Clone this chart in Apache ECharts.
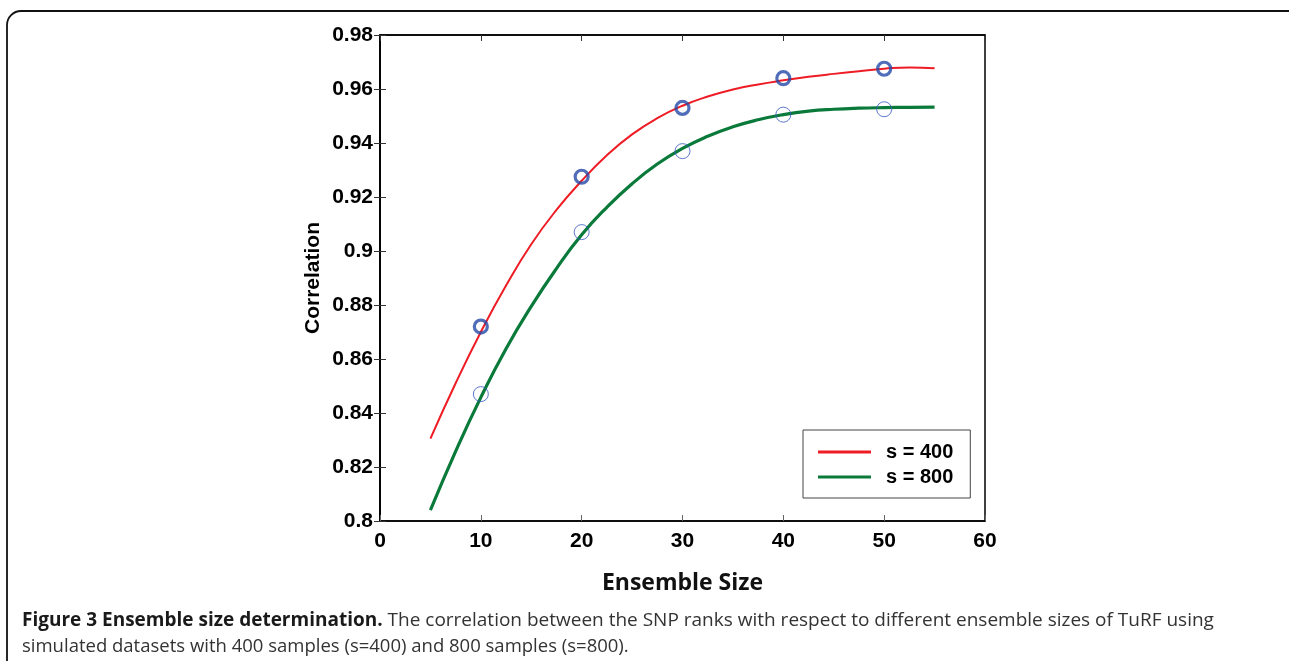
<!DOCTYPE html>
<html>
<head>
<meta charset="utf-8">
<title>Ensemble size determination</title>
<script src="https://cdn.jsdelivr.net/npm/echarts@6/dist/echarts.min.js"></script>
<style>
    html, body { margin: 0; padding: 0; background: #fff; }
    #chart { width: 1289px; height: 661px; }
</style>
</head>
<body>
<div id="chart"></div>
<script>
// fitted curves (ensemble size -> correlation)
const fitX = [5, 7.5, 10, 12.5, 15, 17.5, 20, 22.5, 25, 27.5, 30, 32.5, 35, 37.5, 40, 42.5, 45, 47.5, 50, 52.5, 55];
const fit400 = [0.8305, 0.851, 0.870, 0.8872, 0.9025, 0.9152, 0.926, 0.9355, 0.9432, 0.9492, 0.9538, 0.9572, 0.9598, 0.9617, 0.9632, 0.9645, 0.9656, 0.9666, 0.9675, 0.968, 0.9677];
const fit800 = [0.804, 0.8258, 0.8458, 0.8638, 0.8795, 0.8935, 0.906, 0.9162, 0.9249, 0.9322, 0.938, 0.9425, 0.946, 0.9486, 0.9505, 0.9518, 0.9525, 0.9529, 0.9531, 0.9532, 0.9533];

// observed points
const obsX = [10, 20, 30, 40, 50];
const obs400 = [0.872, 0.9275, 0.953, 0.964, 0.9675];
const obs800 = [0.847, 0.907, 0.937, 0.9505, 0.9525];

const seriesNames = ['s = 400', 's = 800'];
const xTitle = 'Ensemble Size';
const yTitle = 'Correlation';

const pair = (xs, ys) => xs.map((x, i) => [x, ys[i]]);

const chart = echarts.init(document.getElementById('chart'));

const labelFont = {
    color: '#000',
    fontFamily: 'Liberation Sans, Arial',
    fontWeight: 'bold',
    fontSize: 21
};

chart.setOption({
    animation: false,
    grid: {
        left: 380,
        right: 304,
        top: 35,
        bottom: 140,
        show: true,
        borderColor: '#000',
        borderWidth: 1.5
    },
    xAxis: [{
        type: 'value',
        min: 0,
        max: 60,
        interval: 10,
        name: xTitle,
        nameLocation: 'middle',
        nameGap: 51,
        nameTextStyle: {
            color: '#111',
            fontFamily: 'Open Sans',
            fontWeight: 'bold',
            fontSize: 23
        },
        axisLine: { lineStyle: { color: '#000', width: 1.5 } },
        axisTick: { inside: true, length: 6, lineStyle: { color: '#666' } },
        axisLabel: Object.assign({ margin: 10 }, labelFont),
        splitLine: { show: false }
    }, {
        type: 'value',
        position: 'top',
        min: 0,
        max: 60,
        interval: 10,
        axisLine: { lineStyle: { color: '#000', width: 1.5 } },
        axisTick: { inside: true, length: 6, lineStyle: { color: '#333' } },
        axisLabel: { show: false },
        splitLine: { show: false }
    }],
    yAxis: [{
        type: 'value',
        min: 0.8,
        max: 0.98,
        interval: 0.02,
        name: yTitle,
        nameLocation: 'middle',
        nameGap: 56,
        nameTextStyle: labelFont,
        axisLine: { lineStyle: { color: '#000', width: 1.5 } },
        axisTick: { inside: true, length: 6, lineStyle: { color: '#333' } },
        axisLabel: Object.assign({ margin: 7 }, labelFont),
        splitLine: { show: false }
    }, {
        type: 'value',
        position: 'right',
        min: 0.8,
        max: 0.98,
        interval: 0.02,
        axisLine: { lineStyle: { color: '#000', width: 1.5 } },
        axisTick: { inside: true, length: 6, lineStyle: { color: '#333' } },
        axisLabel: { show: false },
        splitLine: { show: false }
    }],
    legend: {
        left: 803,
        top: 430,
        orient: 'vertical',
        backgroundColor: '#fff',
        borderColor: '#444',
        borderWidth: 1,
        borderRadius: 0,
        padding: [12, 17, 11, 15],
        itemGap: 5,
        itemWidth: 53,
        itemHeight: 3,
        data: [
            { name: seriesNames[0], icon: 'rect' },
            { name: seriesNames[1], icon: 'rect' }
        ],
        textStyle: Object.assign({ padding: [0, 0, 0, 10] }, labelFont, { fontSize: 20 })
    },
    series: [{
        name: seriesNames[0],
        type: 'line',
        smooth: true,
        showSymbol: false,
        data: pair(fitX, fit400),
        lineStyle: { color: '#ee1c25', width: 2 },
        itemStyle: { color: '#ee1c25' },
        z: 3
    }, {
        name: seriesNames[1],
        type: 'line',
        smooth: true,
        showSymbol: false,
        data: pair(fitX, fit800),
        lineStyle: { color: '#0a7a3a', width: 3.2 },
        itemStyle: { color: '#0a7a3a' },
        z: 3
    }, {
        name: 'obs400',
        type: 'scatter',
        symbol: 'circle',
        symbolSize: 13,
        data: pair(obsX, obs400),
        itemStyle: { color: 'rgba(0,0,0,0)', borderColor: '#2448a8', borderWidth: 3.2 },
        z: 4
    }, {
        name: 'obs800',
        type: 'scatter',
        symbol: 'circle',
        symbolSize: 15,
        data: pair(obsX, obs800),
        itemStyle: { color: 'rgba(0,0,0,0)', borderColor: '#3558c0', borderWidth: 1 },
        z: 4
    }],
    graphic: [{
        type: 'rect',
        shape: { x: 7, y: 11, width: 1320, height: 700, r: 14 },
        style: { fill: 'none', stroke: '#111', lineWidth: 1.8 },
        silent: true
    }, {
        type: 'text',
        left: 22,
        top: 611,
        style: {
            text: '{b|Figure 3 Ensemble size determination.} The correlation between the SNP ranks with respect to different ensemble sizes of TuRF using',
            fontFamily: 'Open Sans',
            fontSize: 19,
            fill: '#333',
            rich: {
                b: { fontFamily: 'Open Sans', fontWeight: 'bold', fontSize: 19, fill: '#1a1a1a' }
            }
        }
    }, {
        type: 'text',
        left: 22,
        top: 637,
        style: {
            text: 'simulated datasets with 400 samples (s=400) and 800 samples (s=800).',
            fontFamily: 'Open Sans',
            fontSize: 18.5,
            fill: '#333'
        }
    }]
});
</script>
</body>
</html>
